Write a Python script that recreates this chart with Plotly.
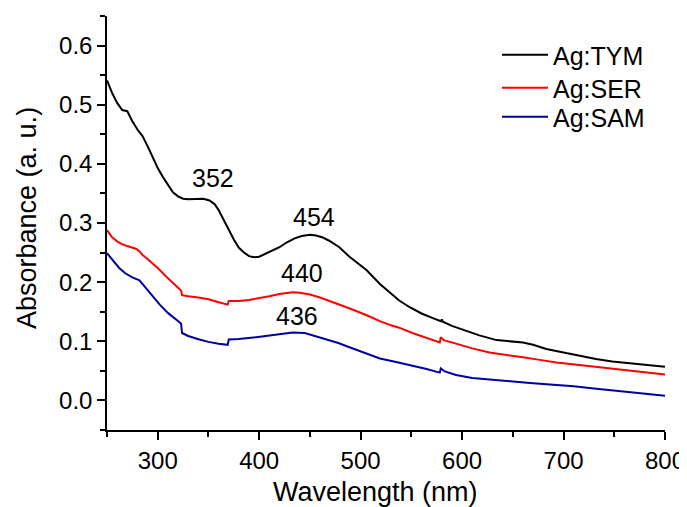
import plotly.graph_objects as go

# ---------------- data ----------------
tym_wl = [250, 255, 260, 265, 270, 275, 280, 285, 290, 295, 300, 305, 310, 315, 320, 325, 330, 338, 345, 351,
          356, 360, 365, 370, 375, 380, 385, 390, 395, 400, 405, 410, 420, 427, 435, 442, 450, 456, 462, 469,
          479, 489, 500, 506, 519, 530, 538, 548, 560, 570, 579, 580, 581, 590, 600, 617, 634, 650, 660, 670,
          683, 700, 716, 732, 748, 765, 780, 800]
tym_abs = [0.541, 0.520, 0.503, 0.491, 0.489, 0.472, 0.458, 0.447, 0.430, 0.411, 0.393, 0.378, 0.364, 0.352,
           0.345, 0.341, 0.340, 0.341, 0.341, 0.338, 0.332, 0.322, 0.305, 0.287, 0.272, 0.258, 0.250, 0.244,
           0.242, 0.243, 0.247, 0.250, 0.259, 0.267, 0.274, 0.278, 0.280, 0.279, 0.276, 0.270, 0.259, 0.243,
           0.228, 0.220, 0.197, 0.180, 0.169, 0.158, 0.147, 0.140, 0.134, 0.137, 0.133, 0.126, 0.120, 0.110,
           0.102, 0.099, 0.098, 0.094, 0.087, 0.081, 0.075, 0.070, 0.066, 0.063, 0.060, 0.057]

ser_wl = [250, 255, 260, 265, 270, 276, 279, 282, 285, 290, 295, 300, 308, 315, 320, 323, 324, 330, 340, 350,
          360, 369, 370, 380, 390, 397, 410, 420, 427, 433, 440, 450, 460, 473, 490, 506, 519, 530, 538, 551,
          565, 578, 579, 582, 594, 610, 627, 645, 660, 675, 693, 720, 748, 775, 800]
ser_abs = [0.288, 0.276, 0.269, 0.264, 0.261, 0.258, 0.256, 0.252, 0.246, 0.239, 0.232, 0.224, 0.210, 0.198,
           0.191, 0.186, 0.178, 0.176, 0.174, 0.171, 0.166, 0.162, 0.168, 0.168, 0.170, 0.172, 0.176, 0.180,
           0.182, 0.183, 0.182, 0.179, 0.174, 0.166, 0.155, 0.144, 0.134, 0.127, 0.123, 0.114, 0.106, 0.098,
           0.107, 0.102, 0.096, 0.088, 0.081, 0.077, 0.073, 0.069, 0.064, 0.059, 0.054, 0.049, 0.044]

sam_wl = [250, 256, 262, 268, 275, 282, 286, 289, 295, 302, 310, 318, 323, 324, 330, 341, 350, 360, 369, 370,
          380, 397, 410, 420, 433, 445, 453, 465, 478, 489, 505, 519, 535, 551, 565, 578, 579, 583, 594, 610,
          627, 650, 670, 690, 710, 730, 748, 775, 800]
sam_abs = [0.249, 0.236, 0.224, 0.215, 0.208, 0.203, 0.195, 0.189, 0.176, 0.162, 0.148, 0.137, 0.130, 0.114,
           0.109, 0.103, 0.099, 0.096, 0.094, 0.103, 0.104, 0.107, 0.110, 0.113, 0.115, 0.114, 0.110, 0.104,
           0.097, 0.090, 0.080, 0.071, 0.065, 0.059, 0.053, 0.047, 0.054, 0.049, 0.043, 0.038, 0.035, 0.032,
           0.029, 0.027, 0.024, 0.020, 0.017, 0.012, 0.008]

series_names = ["Ag:TYM", "Ag:SER", "Ag:SAM"]
series_colors = ["#000000", "#ff0000", "#0000a0"]

peak_labels = ["352", "454", "440", "436"]
peak_x = [354, 454, 442, 437]
peak_y = [0.376, 0.310, 0.215, 0.142]

x_ticks = [300, 400, 500, 600, 700, 800]
y_ticks = [0.0, 0.1, 0.2, 0.3, 0.4, 0.5, 0.6]

FONT = "Liberation Sans, Arial, sans-serif"

PLOT_W = 558.0
PLOT_H = 414.0

fig = go.Figure()
legend_ids = ["legend", "legend2", "legend3"]
for wl, ab, name, col, lid in zip([tym_wl, ser_wl, sam_wl], [tym_abs, ser_abs, sam_abs],
                                  series_names, series_colors, legend_ids):
    fig.add_trace(go.Scatter(x=wl, y=ab, mode="lines", name=name, legend=lid,
                             line=dict(color=col, width=2)))

for t, px, py in zip(peak_labels, peak_x, peak_y):
    fig.add_annotation(x=px, y=py, text=t, showarrow=False, xref="x", yref="y",
                       font=dict(family=FONT, size=25, color="black"))

# axis titles
fig.add_annotation(text="Wavelength (nm)", x=(375 - 107) / PLOT_W, y=-0.150, xref="paper", yref="paper",
                   showarrow=False, xanchor="center", yanchor="middle",
                   font=dict(family=FONT, size=27, color="black"))
fig.add_annotation(text="Absorbance (a. u.)", x=(27 - 107) / PLOT_W, y=(430 - 218) / PLOT_H, xref="paper",
                   yref="paper", showarrow=False, xanchor="center", yanchor="middle", textangle=-90,
                   font=dict(family=FONT, size=27, color="black"))

legend_rows_px = [55, 88, 117]
legend_common = dict(xanchor="left", yanchor="middle", bgcolor="rgba(0,0,0,0)", borderwidth=0,
                     font=dict(family=FONT, size=25, color="black"), itemwidth=46)
layout_legends = {}
for lid, row in zip(legend_ids, legend_rows_px):
    layout_legends[lid] = dict(x=(497 - 107) / PLOT_W, y=1 - (row - 16) / PLOT_H, **legend_common)

fig.update_layout(
    width=700, height=499,
    margin=dict(l=99, r=700 - 99 - int(PLOT_W), t=8, b=77),
    paper_bgcolor="white", plot_bgcolor="white",
    font=dict(family=FONT, size=24, color="black"),
    showlegend=True,
    **layout_legends,
)
fig.update_xaxes(range=[250, 800], tickvals=x_ticks, ticks="outside", ticklen=8, tickwidth=1.5,
                 tickcolor="black", showline=True, linecolor="black", linewidth=1.5, showgrid=False,
                 zeroline=False, mirror=False, tickfont=dict(family=FONT, size=24, color="black"),
                 minor=dict(dtick=50, tick0=250, ticks="outside", ticklen=5, tickwidth=1.5, tickcolor="black",
                            showgrid=False))
fig.update_yaxes(range=[-0.05, 0.65], tickvals=y_ticks, ticktext=[f"{v:.1f}" for v in y_ticks],
                 ticks="outside", ticklen=8, tickwidth=1.5,
                 tickcolor="black", showline=True, linecolor="black", linewidth=1.5, showgrid=False,
                 zeroline=False, mirror=False, tickfont=dict(family=FONT, size=24, color="black"),
                 minor=dict(dtick=0.05, tick0=0, ticks="outside", ticklen=5, tickwidth=1.5, tickcolor="black",
                            showgrid=False))

fig.write_html("out.html")
